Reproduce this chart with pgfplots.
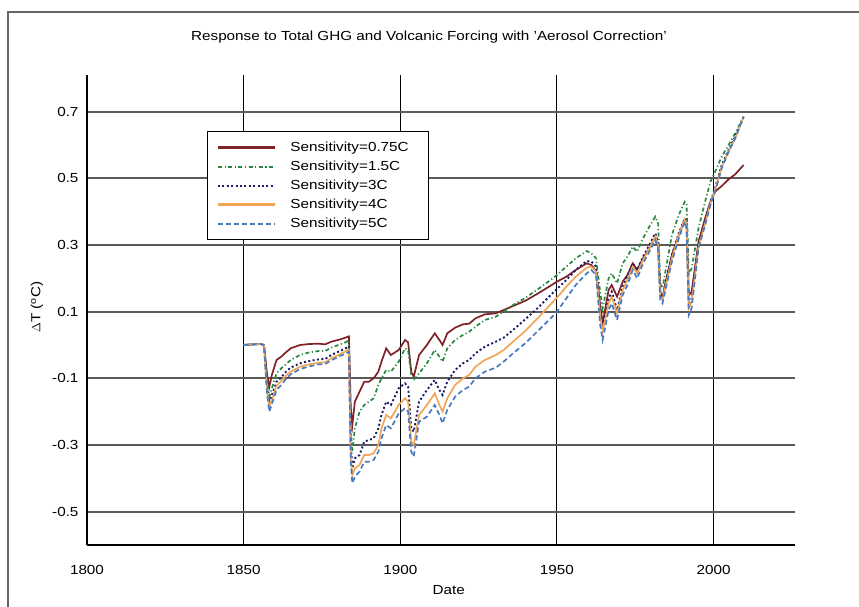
\documentclass[border=0pt]{standalone}
\usepackage{pgfplots}
\pgfplotsset{compat=1.18}
\usepackage{pgfplotstable}
\usepackage{fontspec}
\setmainfont[FakeStretch=1.16]{Liberation Sans}
\newcommand\chfont{\fontsize{13.2}{15}\selectfont}

\definecolor{sRed}{RGB}{128,34,40}
\definecolor{sGreen}{RGB}{40,135,62}
\definecolor{sNavy}{RGB}{28,28,105}
\definecolor{sOrange}{RGB}{240,165,88}
\definecolor{sBlue}{RGB}{72,122,192}
\definecolor{gridgray}{RGB}{90,90,90}

% year, then dT for sensitivity 0.75, 1.5, 3, 4, 5 C
\pgfplotstableread{
year   r      g      n      o      b
1850   0      0      0      0      0
1853   0.002  0.002  0.002  0.002  0.002
1855.5 0.003  0.003  0.003  0.003  0.003
1856.5 0.0    0.0    0.0    0.0    0.0
1857.5 -0.09  -0.11  -0.13  -0.14  -0.15
1858.2 -0.125 -0.155 -0.175 -0.185 -0.2
1859   -0.09  -0.13  -0.15  -0.165 -0.178
1860.5 -0.045 -0.085 -0.11  -0.122 -0.135
1862   -0.035 -0.07  -0.097 -0.108 -0.12
1863.5 -0.022 -0.058 -0.08  -0.092 -0.102
1865   -0.01  -0.045 -0.068 -0.08  -0.088
1868   0.0    -0.03  -0.055 -0.065 -0.072
1871   0.003  -0.022 -0.048 -0.058 -0.064
1874   0.004  -0.018 -0.043 -0.053 -0.058
1876   0.002  -0.018 -0.042 -0.052 -0.057
1878   0.01   -0.008 -0.03  -0.04  -0.046
1880.5 0.016  0.001  -0.019 -0.029 -0.034
1882.5 0.022  0.008  -0.01  -0.019 -0.026
1883.6 0.026  0.014  -0.004 -0.013 -0.02
1884.2 -0.19  -0.26  -0.3   -0.33  -0.35
1884.7 -0.24  -0.32  -0.37  -0.39  -0.415
1885.5 -0.17  -0.25  -0.34  -0.37  -0.395
1887   -0.14  -0.2   -0.33  -0.36  -0.38
1888.5 -0.11  -0.18  -0.29  -0.33  -0.35
1890   -0.11  -0.17  -0.285 -0.33  -0.35
1891.5 -0.1   -0.16  -0.28  -0.325 -0.345
1893   -0.08  -0.12  -0.25  -0.3   -0.32
1894   -0.05  -0.1   -0.21  -0.25  -0.28
1895.5 -0.01  -0.075 -0.17  -0.21  -0.24
1897   -0.03  -0.08  -0.18  -0.22  -0.25
1899.5 -0.015 -0.05  -0.13  -0.18  -0.205
1901.5 0.015  -0.01  -0.115 -0.16  -0.19
1902.5 0.008  -0.015 -0.125 -0.17  -0.2
1903.5 -0.08  -0.09  -0.25  -0.29  -0.32
1904.3 -0.095 -0.105 -0.26  -0.3   -0.335
1906   -0.03  -0.085 -0.17  -0.21  -0.23
1908.5 0.0    -0.055 -0.135 -0.18  -0.215
1911   0.035  -0.015 -0.105 -0.145 -0.18
1912.5 0.015  -0.035 -0.135 -0.18  -0.21
1913.5 0.0    -0.05  -0.15  -0.2   -0.235
1915   0.035  -0.01  -0.11  -0.16  -0.195
1917.5 0.052  0.015  -0.075 -0.12  -0.155
1920   0.062  0.03   -0.055 -0.1   -0.135
1922   0.064  0.04   -0.045 -0.09  -0.125
1924   0.08   0.055  -0.025 -0.065 -0.1
1927   0.092  0.075  -0.005 -0.045 -0.08
1930.5 0.095  0.085  0.01   -0.03  -0.068
1933   0.105  0.1    0.022  -0.015 -0.05
1936   0.117  0.12   0.045  0.01   -0.025
1940   0.133  0.142  0.078  0.043  0.006
1944   0.155  0.168  0.112  0.082  0.043
1948   0.178  0.195  0.15   0.122  0.08
1950   0.19   0.21   0.168  0.142  0.1
1953   0.205  0.235  0.195  0.175  0.14
1956   0.225  0.26   0.225  0.205  0.18
1959.5 0.245  0.282  0.252  0.232  0.215
1961   0.24   0.275  0.25   0.235  0.225
1962.5 0.22   0.26   0.235  0.22   0.21
1963.8 0.12   0.16   0.1    0.09   0.06
1964.6 0.065  0.11   0.05   0.04   0.015
1966.5 0.165  0.2    0.14   0.125  0.105
1967.5 0.18   0.215  0.16   0.145  0.125
1969.2 0.145  0.185  0.105  0.095  0.075
1971   0.19   0.245  0.175  0.165  0.15
1972.5 0.21   0.265  0.205  0.195  0.18
1974.2 0.245  0.295  0.245  0.235  0.225
1975.6 0.225  0.28   0.225  0.215  0.2
1977.5 0.26   0.32   0.265  0.255  0.245
1979.5 0.29   0.355  0.3    0.29   0.28
1981.4 0.325  0.385  0.335  0.325  0.315
1982.3 0.3    0.365  0.31   0.3    0.29
1983   0.16   0.185  0.15   0.145  0.135
1983.7 0.14   0.17   0.14   0.135  0.125
1985   0.2    0.24   0.2    0.19   0.18
1986.7 0.27   0.33   0.27   0.26   0.25
1988.9 0.33   0.39   0.335  0.33   0.32
1990.8 0.375  0.43   0.38   0.375  0.37
1991.4 0.36   0.425  0.37   0.36   0.35
1992.1 0.15   0.21   0.12   0.11   0.09
1993   0.16   0.23   0.14   0.13   0.11
1995.2 0.31   0.35   0.3    0.295  0.29
1997.3 0.38   0.43   0.37   0.365  0.36
1999   0.43   0.49   0.43   0.425  0.42
2000.5 0.46   0.52   0.47   0.465  0.46
2002.6 0.477  0.565  0.54   0.535  0.53
2004.8 0.497  0.6    0.585  0.58   0.58
2006.9 0.512  0.635  0.625  0.62   0.62
2009.6 0.54   0.685  0.685  0.685  0.685
}\sens

\begin{document}
\begin{tikzpicture}
\path[use as bounding box] (0,0) rectangle (859bp,607bp);
% outer frame (left and top edges visible)
\draw[line width=1.8bp, black!60] (8bp,0bp) -- (8bp,595bp) -- (859bp,595bp);
\begin{axis}[
  at={(87bp,62bp)}, anchor=south west,
  scale only axis, width=708bp, height=470bp,
  xmin=1800, xmax=2026, ymin=-0.6, ymax=0.81,
  axis x line*=bottom, axis y line*=left,
  x axis line style={line width=2.4bp, -},
  y axis line style={line width=1.3bp, -},
  xtick={1800,1850,1900,1950,2000},
  ytick={-0.5,-0.3,-0.1,0.1,0.3,0.5,0.7},
  major tick length=0pt,
  grid=major,
  x grid style={black, line width=1.1bp},
  y grid style={gridgray, line width=2bp},
  /pgf/number format/assume math mode=true,
  ticklabel style={font=\chfont},
  xticklabel style={/pgf/number format/1000 sep={}, yshift=-17bp},
  yticklabel style={/pgf/number format/.cd, fixed, fixed zerofill, precision=1, /tikz/.cd, xshift=-5bp},
  title={Response to Total GHG and Volcanic Forcing with 'Aerosol Correction'},
  title style={at={(axis description cs:0.483,1.068)}, anchor=center, font=\chfont},
  xlabel={Date},
  xlabel style={at={(axis description cs:0.511,-0.096)}, anchor=center, font=\chfont},
  ylabel={$\Delta$T (\textsuperscript{o}C)},
  ylabel style={at={(axis description cs:-0.0706,0.506)}, anchor=center, font=\chfont},
  legend cell align=left,
  legend image code/.code={\draw[#1] (0bp,0bp) -- (57bp,0bp);},
  legend style={at={(axis description cs:0.1695,0.881)}, anchor=north west,
    draw=black, line width=1.3bp, fill=white, inner xsep=9bp, inner ysep=7bp,
    font=\chfont, row sep=1bp,
    nodes={inner sep=2bp, text height=10.5bp, text depth=3.5bp},
    /tikz/every odd column/.append style={column sep=12bp}},
]
\addplot[sRed, line width=1.7bp, legend image post style={line width=2.8bp}] table[x=year, y=r] {\sens};
\addlegendentry{Sensitivity=0.75C\rule{9bp}{0pt}}
\addplot[sGreen, line width=1.7bp, dash pattern=on 4bp off 2.5bp on 1.2bp off 2.5bp, legend image post style={line width=2bp}] table[x=year, y=g] {\sens};
\addlegendentry{Sensitivity=1.5C}
\addplot[sNavy, line width=1.9bp, dash pattern=on 2bp off 2.4bp] table[x=year, y=n] {\sens};
\addlegendentry{Sensitivity=3C}
\addplot[sOrange, line width=1.7bp, legend image post style={line width=2.8bp}] table[x=year, y=o] {\sens};
\addlegendentry{Sensitivity=4C}
\addplot[sBlue, line width=1.7bp, dash pattern=on 5bp off 3bp, legend image post style={line width=2bp}] table[x=year, y=b] {\sens};
\addlegendentry{Sensitivity=5C}
\end{axis}
\end{tikzpicture}
\end{document}
